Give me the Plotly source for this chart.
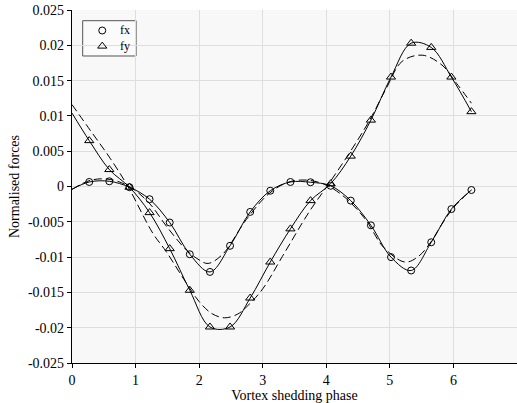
import plotly.graph_objects as go

# Sampled phases (markers) and the measured force components
phase = [0.271, 0.587, 0.904, 1.220, 1.537, 1.853, 2.170, 2.486, 2.803, 3.119,
         3.436, 3.752, 4.069, 4.385, 4.702, 5.018, 5.335, 5.651, 5.968, 6.283]
fx = [0.00064, 0.00074, -0.0001, -0.0018, -0.0051, -0.0096, -0.0121, -0.0084, -0.0036, -0.0006,
      0.00064, 0.0006, 0.0001, -0.0020, -0.0055, -0.0100, -0.0119, -0.0079, -0.0032, -0.0005]
fy = [0.0065, 0.0024, -0.0001, -0.0037, -0.0088, -0.0147, -0.0199, -0.0199, -0.0158, -0.0107,
      -0.0060, -0.0020, 0.0004, 0.0043, 0.0094, 0.0155, 0.0203, 0.0197, 0.0155, 0.0106]

# Values of the solid curves at phase 0
phase_start = 0.0
fx_start = -0.0004
fy_start = 0.0104

# Smoothed (dashed) curves
fx_fit_phase = [0, 0.3, 0.6, 0.9, 1.2, 1.5, 1.8, 2.0, 2.14, 2.37, 2.74, 3.1, 3.4, 3.7,
                4.0, 4.3, 4.62, 4.9, 5.24, 5.45, 5.65, 5.8, 6.0, 6.283]
fx_fit = [-0.0004, 0.0009, 0.0010, 0.0000, -0.0022, -0.0058, -0.0090, -0.0104, -0.0109, -0.0096,
          -0.0047, -0.0010, 0.0006, 0.0009, 0.0002, -0.0016, -0.0047, -0.0086, -0.0107, -0.0099,
          -0.0078, -0.0056, -0.0030, -0.0005]
fy_fit_phase = [0, 0.3, 0.6, 0.88, 1.27, 1.48, 1.8, 2.0, 2.2, 2.4, 2.6, 2.74, 3.0, 3.31,
                3.73, 4.04, 4.36, 4.67, 4.95, 5.19, 5.51, 5.82, 6.05, 6.283]
fy_fit = [0.0116, 0.0078, 0.0040, 0.0000, -0.0066, -0.0092, -0.0137, -0.0163, -0.0180, -0.0186,
          -0.0181, -0.0171, -0.0145, -0.0099, -0.0036, 0.0004, 0.0047, 0.0092, 0.0140, 0.0177,
          0.0186, 0.0172, 0.0146, 0.0118]

series_names = ["fx", "fy"]

x_ticks = [0, 1, 2, 3, 4, 5, 6, 7]
x_ticktext = ["0", "1", "2", "3", "4", "5", "6", "7"]
y_ticks = [0.025, 0.02, 0.015, 0.01, 0.005, 0, -0.005, -0.01, -0.015, -0.02, -0.025]
y_ticktext = ["0.025", "0.02", "0.015", "0.01", "0.005", "0", "-0.005", "-0.01", "-0.015", "-0.02", "-0.025"]

FONT = "Liberation Serif, Times New Roman, serif"
INK = "black"
SYMBOLS = ["circle-open", "triangle-up-open"]
SIZES = [7, 8]

fig = go.Figure()

# Dashed smoothed curves
for xs, ys in ((fx_fit_phase, fx_fit), (fy_fit_phase, fy_fit)):
    fig.add_trace(go.Scatter(
        x=xs, y=ys, mode="lines", showlegend=False, hoverinfo="skip",
        line=dict(color=INK, width=1, dash="8px,4px", shape="spline", smoothing=1.0),
    ))

# Solid curves through the samples
for ys, start in ((fx, fx_start), (fy, fy_start)):
    fig.add_trace(go.Scatter(
        x=[phase_start] + phase, y=[start] + ys, mode="lines", showlegend=False,
        line=dict(color=INK, width=1, shape="spline", smoothing=1.0),
    ))

# Sample markers
for ys, name, sym, size in zip((fx, fy), series_names, SYMBOLS, SIZES):
    fig.add_trace(go.Scatter(
        x=phase, y=ys, mode="markers", name=name, showlegend=False,
        marker=dict(symbol=sym, size=size, color=INK, line=dict(width=1, color=INK)),
    ))

# Compact legend box: frame, keys on a unit overlay axis, and a two-line label
LEG_X0, LEG_X1, LEG_Y0, LEG_Y1 = 0.024, 0.144, 0.8697, 0.9697
KEY_X, LABEL_X = 0.068, 0.103
LABEL_Y = 0.9198
ROW_Y = [0.9419, 0.8977]

fig.add_shape(type="rect", xref="paper", yref="paper",
              x0=LEG_X0, x1=LEG_X1, y0=LEG_Y0, y1=LEG_Y1,
              line=dict(color="#555555", width=1), fillcolor="#fbfbfb", layer="between")
for sym, size, ry in zip(SYMBOLS, SIZES, ROW_Y):
    fig.add_trace(go.Scatter(
        x=[KEY_X], y=[ry], xaxis="x2", yaxis="y2", mode="markers", showlegend=False,
        hoverinfo="skip",
        marker=dict(symbol=sym, size=size, color=INK, line=dict(width=1, color=INK)),
    ))
fig.add_annotation(x=LABEL_X, y=LABEL_Y, xref="paper", yref="paper",
                   text="<br>".join(series_names), align="left",
                   showarrow=False, xanchor="left", yanchor="middle",
                   font=dict(family=FONT, size=12, color=INK))

axis_common = dict(
    showgrid=True, gridcolor="#dedede", gridwidth=1,
    zeroline=False, showline=True, linecolor=INK, linewidth=1.3,
    ticks="outside", ticklen=4, tickcolor=INK, tickwidth=1,
    tickfont=dict(family=FONT, size=14, color=INK),
    automargin=False,
)

fig.update_xaxes(
    range=[0, 7], tickmode="array", tickvals=x_ticks, ticktext=x_ticktext,
    title=dict(text="Vortex shedding phase", font=dict(family=FONT, size=14, color=INK), standoff=2),
    **axis_common,
)
fig.update_yaxes(
    range=[-0.025, 0.025], tickmode="array", tickvals=y_ticks, ticktext=y_ticktext,
    title=dict(text="Normalised forces", font=dict(family=FONT, size=14, color=INK), standoff=4),
    **axis_common,
)

fig.update_layout(
    width=517, height=403,
    margin=dict(l=72, r=0, t=10, b=40),
    paper_bgcolor="white", plot_bgcolor="#f8f8f8",
    font=dict(family=FONT, size=14, color=INK),
    showlegend=False,
    xaxis2=dict(overlaying="x", range=[0, 1], visible=False, fixedrange=True),
    yaxis2=dict(overlaying="y", range=[0, 1], visible=False, fixedrange=True),
)

fig.write_html("out.html")
